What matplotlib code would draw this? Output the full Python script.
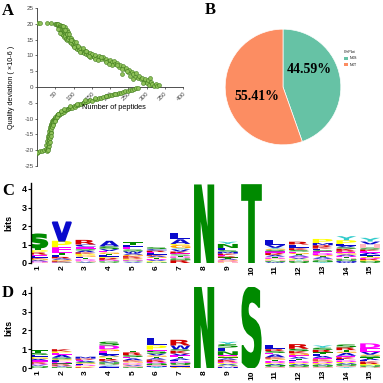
import matplotlib
matplotlib.use("Agg")
import matplotlib.pyplot as plt
from matplotlib.textpath import TextPath
from matplotlib.patches import PathPatch, Patch
from matplotlib.transforms import Affine2D
from matplotlib.font_manager import FontProperties

# ---------------- Panel A data ----------------
top_x = [2, 9, 27, 38, 50, 53, 55, 57, 58, 60,
         61, 62, 63, 64, 65, 66, 67, 68, 69, 70,
         71, 72, 73, 74, 75, 76, 77, 78, 79, 80,
         81, 82, 83, 84, 85, 86, 88, 90, 92, 94,
         96, 98, 100, 102, 104, 106, 108, 110, 113, 116,
         119, 122, 125, 128, 131, 134, 137, 140, 144, 148,
         152, 156, 160, 165, 170, 175, 180, 185, 190, 195,
         200, 205, 210, 215, 220, 224, 228, 232, 236, 240,
         244, 248, 252, 256, 260, 264, 268, 272, 276, 280,
         284, 288, 292, 296, 300, 304, 308, 312, 316, 320,
         325, 330, 145, 175, 205, 232, 262, 290, 310, 335,
         58, 64, 70, 76, 82, 88, 94, 100, 106, 112,
         118, 126, 134, 142, 158, 168, 188, 198, 218, 246]
top_y = [20.3, 20.3, 20.2, 20.1, 19.9, 19.8, 19.9, 19.3, 20.0, 19.1,
         18.6, 19.6, 17.9, 18.9, 19.4, 17.3, 18.4, 19.2, 16.8, 17.9,
         18.9, 16.4, 17.6, 18.5, 15.9, 17.2, 19.0, 16.1, 17.5, 15.3,
         16.7, 18.1, 14.9, 16.2, 17.3, 15.1, 15.8, 14.2, 15.6, 13.9,
         14.8, 13.3, 14.1, 12.9, 13.7, 12.4, 13.2, 12.0, 12.7, 11.6,
         12.2, 11.1, 11.7, 10.8, 11.4, 10.5, 11.0, 10.2, 10.7, 9.9,
         10.3, 9.6, 10.1, 9.3, 9.7, 8.9, 9.4, 8.6, 9.0, 8.2,
         8.6, 7.8, 8.1, 7.2, 7.6, 6.4, 7.1, 4.1, 6.5, 5.6,
         6.1, 4.8, 5.4, 3.6, 4.9, 4.2, 3.2, 4.5, 2.7, 3.5,
         2.4, 3.0, 1.6, 2.6, 1.2, 2.1, 0.6, 1.5, 0.9, 0.4,
         1.0, 0.3, 9.5, 9.6, 7.0, 5.8, 2.4, 1.2, 2.8, 0.7,
         18.4, 17.0, 19.3, 18.0, 16.9, 16.8, 15.0, 12.6, 14.3, 13.1,
         11.0, 12.3, 11.5, 9.8, 8.9, 8.5, 7.9, 7.4, 6.9, 5.0]
bot_x = [0, 4, 9, 14, 20, 24, 26, 27, 28, 29,
         30, 30, 31, 31, 32, 32, 33, 33, 34, 34,
         35, 35, 36, 36, 37, 37, 38, 38, 39, 39,
         40, 41, 42, 43, 44, 45, 46, 47, 48, 49,
         50, 52, 54, 56, 58, 60, 62, 64, 66, 68,
         70, 73, 76, 79, 82, 85, 88, 91, 94, 97,
         100, 104, 108, 112, 116, 120, 125, 130, 135, 140,
         146, 152, 158, 164, 170, 176, 182, 188, 194, 200,
         206, 212, 218, 224, 230, 236, 242, 248, 254, 260,
         266, 272, 278, 28, 31, 35, 38, 42, 55, 65,
         44, 48, 57, 75, 90, 110, 132, 160, 190, 215]
bot_y = [-21.0, -20.5, -20.4, -20.2, -19.9, -19.6, -18.4, -19.8, -17.1, -18.9,
         -16.2, -19.3, -17.8, -15.4, -18.6, -14.8, -16.9, -13.9, -15.9, -17.6,
         -13.2, -14.9, -12.7, -16.2, -14.1, -12.1, -13.3, -11.7, -12.5, -14.4,
         -11.3, -12.2, -10.9, -11.8, -10.5, -11.2, -10.1, -10.8, -9.8, -10.3,
         -9.5, -9.9, -9.0, -9.3, -8.6, -8.9, -8.2, -8.5, -7.9, -8.1,
         -7.6, -7.9, -7.2, -7.4, -6.9, -7.1, -6.6, -6.8, -6.3, -6.5,
         -6.0, -6.2, -5.7, -5.8, -5.3, -5.5, -5.0, -4.9, -4.6, -4.5,
         -4.2, -4.3, -3.9, -3.8, -3.5, -3.4, -3.1, -3.0, -2.8, -2.6,
         -2.4, -2.3, -2.1, -1.9, -1.8, -1.6, -1.4, -1.2, -1.0, -0.8,
         -0.6, -0.4, -0.2, -20.3, -20.0, -17.5, -15.5, -12.8, -9.6, -7.5,
         -12.0, -10.9, -8.4, -7.0, -6.0, -5.4, -4.2, -3.6, -2.7, -2.3]
a_xticks = [50, 100, 150, 200, 250, 300, 350, 400]
a_yticks = [-25, -20, -15, -10, -5, 0, 5, 10, 15, 20, 25]

# ---------------- Panel B data ----------------
pie_labels = ["NXS", "NXT"]
pie_values = [44.59, 55.41]
pie_colors = ["#66c2a5", "#fc8d62"]

# ---------------- Panel C / D data (top -> bottom stacks) ----------------
positions = list(range(1, 16))
c_letters = ["STPRELKGADH", "VPETLRAGKSD", "RCESAKPGLTDHVQ", "ASVEGTLPRKDNHQ",
             "TLESWAGKRPDQHV", "SCRELKAGTDVPHN", "LAPGYVKESTDHQNR", "N",
             "YNLSMKERTAGDPH", "T", "LVYGSERKATDPHNQW", "RLKSEGTADVPYHNQ",
             "PMRKLSEDGTAVHQNY", "YPLVSKREGADTHNQMW", "YVHSKEALTGDRPNQ"]
c_heights = [[0.72, 0.14, 0.12, 0.12, 0.08, 0.08, 0.07, 0.07, 0.06, 0.05, 0.04],
             [1.0, 0.35, 0.3, 0.12, 0.1, 0.08, 0.07, 0.06, 0.05, 0.04, 0.03],
             [0.25, 0.12, 0.1, 0.1, 0.1, 0.08, 0.08, 0.08, 0.08, 0.07, 0.06, 0.05, 0.05, 0.03],
             [0.3, 0.15, 0.1, 0.08, 0.08, 0.07, 0.07, 0.07, 0.06, 0.05, 0.05, 0.04, 0.04, 0.04],
             [0.12, 0.12, 0.15, 0.1, 0.1, 0.08, 0.08, 0.07, 0.06, 0.06, 0.05, 0.05, 0.04, 0.04],
             [0.1, 0.08, 0.08, 0.07, 0.07, 0.06, 0.06, 0.06, 0.06, 0.05, 0.05, 0.04, 0.04, 0.03],
             [0.32, 0.25, 0.05, 0.18, 0.06, 0.12, 0.1, 0.06, 0.06, 0.05, 0.05, 0.05, 0.05, 0.05, 0.15],
             [4.2],
             [0.12, 0.22, 0.12, 0.08, 0.1, 0.08, 0.07, 0.06, 0.06, 0.06, 0.05, 0.05, 0.04, 0.04],
             [4.2],
             [0.28, 0.15, 0.05, 0.06, 0.08, 0.07, 0.07, 0.06, 0.08, 0.06, 0.06, 0.05, 0.05, 0.05, 0.04, 0.04],
             [0.15, 0.2, 0.1, 0.08, 0.08, 0.06, 0.07, 0.06, 0.06, 0.06, 0.05, 0.04, 0.04, 0.04, 0.06],
             [0.22, 0.12, 0.1, 0.08, 0.08, 0.07, 0.1, 0.1, 0.06, 0.06, 0.06, 0.05, 0.05, 0.05, 0.05, 0.05],
             [0.22, 0.2, 0.1, 0.08, 0.08, 0.08, 0.08, 0.08, 0.07, 0.07, 0.07, 0.06, 0.06, 0.05, 0.05, 0.05, 0.05],
             [0.2, 0.15, 0.18, 0.1, 0.08, 0.1, 0.08, 0.08, 0.06, 0.06, 0.06, 0.06, 0.05, 0.05, 0.05]]
d_letters = ["TSLPGAEKRDVHNQ", "KPEASGLDTRVHN", "MREASGLDTPK", "SDGELAPTRKVNQHYCI",
             "TRSEAKGLDPVHNQ", "LPESVGTAKRDQNHMY", "RWSKVETALDNQHIG", "N",
             "YSLNEGTAKRDPVQHM", "S", "LRSEAKGTDPVNQH", "RSKGEATLDPVNQH",
             "YSRTLAEKGDPVNQH", "SRTGAEKLDPVNQHY", "DEVGSTALKRPNQH"]
d_heights = [[0.15, 0.1, 0.1, 0.06, 0.06, 0.07, 0.07, 0.06, 0.05, 0.05, 0.05, 0.04, 0.04, 0.05],
             [0.12, 0.08, 0.1, 0.15, 0.08, 0.06, 0.08, 0.08, 0.06, 0.06, 0.05, 0.04, 0.04],
             [0.1, 0.06, 0.06, 0.06, 0.05, 0.05, 0.05, 0.05, 0.04, 0.04, 0.04],
             [0.2, 0.2, 0.1, 0.1, 0.1, 0.08, 0.07, 0.07, 0.06, 0.06, 0.06, 0.06, 0.05, 0.05, 0.04, 0.05, 0.05],
             [0.07, 0.15, 0.1, 0.07, 0.1, 0.06, 0.06, 0.05, 0.05, 0.04, 0.05, 0.04, 0.03, 0.03],
             [0.4, 0.22, 0.06, 0.15, 0.1, 0.07, 0.08, 0.07, 0.07, 0.06, 0.06, 0.05, 0.05, 0.05, 0.05, 0.06],
             [0.3, 0.2, 0.08, 0.15, 0.1, 0.08, 0.08, 0.08, 0.08, 0.07, 0.06, 0.06, 0.05, 0.05, 0.06],
             [4.3],
             [0.12, 0.18, 0.2, 0.2, 0.06, 0.06, 0.06, 0.07, 0.06, 0.05, 0.06, 0.05, 0.05, 0.05, 0.05, 0.07],
             [4.3],
             [0.25, 0.1, 0.1, 0.08, 0.15, 0.07, 0.06, 0.07, 0.1, 0.05, 0.06, 0.05, 0.05, 0.06],
             [0.25, 0.12, 0.12, 0.1, 0.1, 0.08, 0.08, 0.07, 0.08, 0.06, 0.06, 0.05, 0.05, 0.05],
             [0.12, 0.12, 0.12, 0.1, 0.1, 0.1, 0.08, 0.07, 0.06, 0.07, 0.06, 0.05, 0.05, 0.05, 0.05],
             [0.15, 0.15, 0.08, 0.07, 0.15, 0.08, 0.1, 0.07, 0.08, 0.06, 0.06, 0.05, 0.05, 0.05, 0.05],
             [0.25, 0.2, 0.15, 0.06, 0.08, 0.07, 0.08, 0.07, 0.08, 0.06, 0.07, 0.05, 0.05, 0.04]]
logo_yticks = [0, 1, 2, 3, 4]

aa_colors = {}
for ch in "ACFILMVW":
    aa_colors[ch] = "#0a0acc"
for ch in "NQST":
    aa_colors[ch] = "#008a00"
for ch in "DE":
    aa_colors[ch] = "#ff00ff"
for ch in "KR":
    aa_colors[ch] = "#d40000"
aa_colors["H"] = "#ffb6c1"
aa_colors["G"] = "#ffa500"
aa_colors["P"] = "#ffff00"
aa_colors["Y"] = "#33cccc"

# ---------------- Figure ----------------
plt.rcParams['font.family'] = ['Liberation Sans', 'DejaVu Sans']
fig = plt.figure(figsize=(3.83, 3.83), dpi=100)
serif_bold = dict(family='Liberation Serif', weight='bold')

def px(x, y):
    return x / 383.0, 1 - y / 383.0

# Panel A
axA = fig.add_axes([37 / 383, 1 - 166 / 383, 146 / 383, 158 / 383])
axA.scatter(top_x, top_y, s=8, facecolor="#8fc15a", edgecolor="#3d7a1a", linewidth=0.4, zorder=3)
axA.scatter(bot_x, bot_y, s=8, facecolor="#8fc15a", edgecolor="#3d7a1a", linewidth=0.4, zorder=3)
axA.set_xlim(0, 400)
axA.set_ylim(-25, 25)
axA.spines['top'].set_visible(False)
axA.spines['right'].set_visible(False)
axA.spines['bottom'].set_position(('data', 0))
for s in ('left', 'bottom'):
    axA.spines[s].set_linewidth(0.6)
    axA.spines[s].set_color('#333333')
axA.set_xticks(a_xticks)
axA.set_xticklabels([str(v) for v in a_xticks], rotation=45, ha='right', va='top',
                    fontsize=4.5, color='#444444', rotation_mode='anchor')
axA.set_yticks(a_yticks)
axA.set_yticklabels([str(v) for v in a_yticks], fontsize=4.5, color='#444444')
axA.tick_params(length=1.5, width=0.5, pad=1, color='#333333')
axA.text(210, -6.5, "Number of peptides", fontsize=5.3, ha='center', va='center')
axA.set_ylabel("Quality deviation ( ×10-6 )", fontsize=5.2)
axA.yaxis.set_label_coords(-0.15, 0.5)

# Panel B
axB = fig.add_axes([224 / 383, 1 - 146 / 383, 118 / 383, 118 / 383])
axB.pie(pie_values, colors=pie_colors, startangle=90, counterclock=False,
        wedgeprops=dict(edgecolor='white', linewidth=0.5))
label_pos = [(0.46, 0.30), (-0.45, -0.17)]
for (lx, ly), v in zip(label_pos, pie_values):
    axB.text(lx, ly, f"{v:.2f}%", ha='center', va='center', fontsize=10, **serif_bold)
axB.set_xlim(-1.02, 1.02)
axB.set_ylim(-1.02, 1.02)
handles = [Patch(facecolor=c, edgecolor='none', label=l) for c, l in zip(pie_colors, pie_labels)]
fig.legend(handles=handles, title="ChiPlot", fontsize=2.6, title_fontsize=2.6,
           loc='upper left', bbox_to_anchor=px(341, 47), frameon=False,
           handlelength=1.0, handleheight=1.0, handletextpad=0.5, labelspacing=0.6,
           alignment='left')

# Logo panels
logo_fp = FontProperties(family='DejaVu Sans', weight='bold')

def draw_letter(ax, ch, x, y, w, h):
    tp = TextPath((0, 0), ch, size=1, prop=logo_fp)
    bb = tp.get_extents()
    t = Affine2D().translate(-bb.x0, -bb.y0).scale(w / bb.width, h / bb.height).translate(x - w / 2, y)
    lw = 1.2 if h >= 0.5 else 0
    ax.add_patch(PathPatch(t.transform_path(tp), facecolor=aa_colors[ch],
                           edgecolor=aa_colors[ch] if lw else 'none', lw=lw,
                           joinstyle='miter'))

def logo(ax, letters, heights):
    for pos, lets, hs in zip(positions, letters, heights):
        y = 0.0
        for ch, h in zip(reversed(lets), reversed(hs)):
            ww = 0.78 if h >= 0.5 else 0.84
            draw_letter(ax, ch, pos, y, ww, h)
            y += h
    ax.set_xlim(0.7, 15.5)
    ax.set_ylim(0, 4.3)
    for s in ('top', 'right', 'bottom'):
        ax.spines[s].set_visible(False)
    ax.spines['left'].set_linewidth(1.0)
    ax.set_xticks(positions)
    ax.set_xticklabels([str(p) for p in positions], rotation=90, fontsize=6, fontweight='bold')
    ax.set_yticks(logo_yticks)
    ax.set_yticklabels([str(v) for v in logo_yticks], fontsize=6.5, fontweight='bold')
    ax.tick_params(axis='x', length=0, pad=1.5)
    ax.tick_params(axis='y', length=2, width=0.8, pad=1)
    ax.set_ylabel("bits", fontsize=6.5, fontweight='bold')
    ax.yaxis.set_label_coords(-0.05, 0.5)

axC = fig.add_axes([31 / 383, 1 - 263 / 383, 351 / 383, 4.3 * 18.5 / 383])
logo(axC, c_letters, c_heights)
axD = fig.add_axes([31 / 383, 1 - 368 / 383, 351 / 383, 4.3 * 18.8 / 383])
logo(axD, d_letters, d_heights)

# Panel letters
for lab, (x, y) in zip("ABCD", [(2, 11), (205, 10), (2, 191), (2, 293)]):
    fig.text(*px(x, y), lab, fontsize=12, ha='left', va='center', **serif_bold)

fig.savefig("out.png", dpi=100)
